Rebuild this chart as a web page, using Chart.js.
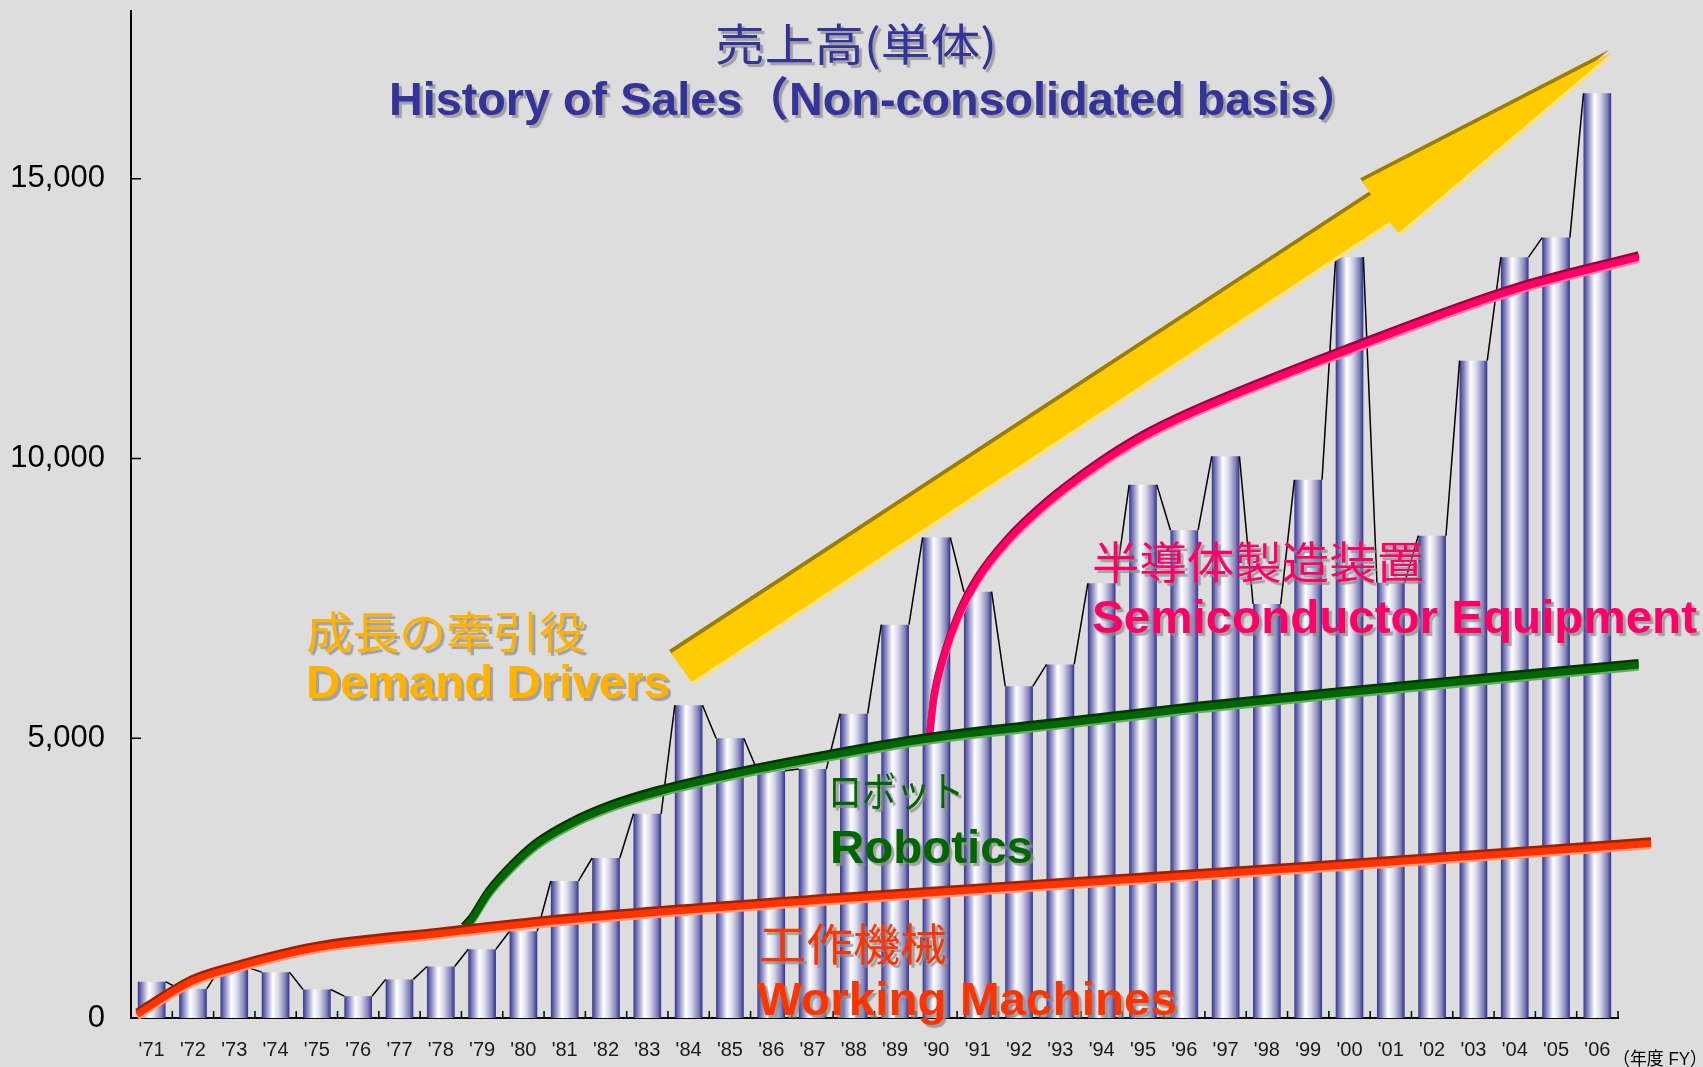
<!DOCTYPE html>
<html>
<head>
<meta charset="utf-8">
<script src="https://cdn.jsdelivr.net/npm/chart.js@4.4.1/dist/chart.umd.min.js"></script>
<style>
html,body{margin:0;padding:0;background:#dddddd;overflow:hidden;}
#wrap{width:1703px;height:1067px;position:relative;}
canvas{display:block;}
</style>
</head>
<body>
<div id="wrap"><canvas id="c" width="1703" height="1067"></canvas></div>
<script>
// ---------- DATA ----------
const fiscalYears = ["'71","'72","'73","'74","'75","'76","'77","'78","'79","'80",
                     "'81","'82","'83","'84","'85","'86","'87","'88","'89","'90",
                     "'91","'92","'93","'94","'95","'96","'97","'98","'99","'00",
                     "'01","'02","'03","'04","'05","'06"];
const sales = [650, 520, 900, 820, 510, 390, 690, 920, 1230, 1550,
               2450, 2860, 3650, 5590, 5000, 4420, 4450, 5440, 7030, 8590,
               7620, 5930, 6320, 7770, 9530, 8720, 10040, 7400, 9620, 13600,
               7780, 8620, 11750, 13600, 13950, 16530];
const yTickValues = [0, 5000, 10000, 15000];

// Trend curves (x = fiscal year position, y = sales level)
const workingMachinesX = [1970.65, 1971.0, 1972.0, 1973.0, 1975.0, 1978.0, 1981.0, 1987.9, 1995.2, 2000.5, 2007.3];
const workingMachinesY = [60, 230, 665, 900, 1255, 1510, 1750, 2140, 2500, 2760, 3120];
const roboticsX = [1978.55, 1978.73, 1979.15, 1979.73, 1980.32, 1981.14, 1982.08, 1983.25, 1985.01, 1987.36, 1989.71, 1993.23, 1996.37, 2000.4, 2007.0];
const roboticsY = [1600, 1742, 2227, 2710, 3102, 3465, 3769, 4039, 4342, 4680, 4977, 5279, 5551, 5850, 6310];
const semiconductorX = [1989.83, 1989.94, 1990.18, 1990.53, 1991.0, 1991.7, 1992.64, 1993.82, 1994.99, 1996.16, 2000.0, 2004.0, 2007.0];
const semiconductorY = [5007, 5732, 6456, 7182, 7846, 8511, 9177, 9841, 10385, 10809, 11950, 13020, 13600];

// Growth arrow outline (fiscal-year position, sales level)
const arrowX = [1983.58, 2000.53, 2000.31, 2006.34, 2001.18, 2000.97, 1984.07];
const arrowY = [6519, 14718, 14955, 17252, 14032, 14239, 6011];

// ---------- STYLE / LAYOUT ----------
const BAR_PCT = 0.67;
const LATIN = '"Liberation Sans", Arial, "Noto Sans CJK JP", sans-serif';
const CJK = '"Noto Sans CJK JP", "Noto Sans CJK SC", sans-serif';

const texts = [
  {t:'売上高(単体)', x:715, y:44, w:282, font:'400 44px '+CJK, color:'#333399', base:'middle'},
  {t:'History of Sales（Non-consolidated basis）', x:389, y:115, w:974, font:'700 46px '+LATIN, color:'#333399', base:'alphabetic'},
  {t:'成長の牽引役', x:306, y:632, w:280, font:'400 44px '+CJK, color:'#ffb300', base:'middle'},
  {t:'Demand Drivers', x:306, y:698, w:364, font:'700 46px '+LATIN, color:'#ffb300', base:'alphabetic'},
  {t:'ロボット', x:828, y:791, w:136, font:'400 42px '+CJK, color:'#006600', base:'middle'},
  {t:'Robotics', x:830, y:863, w:203, font:'700 46px '+LATIN, color:'#006600', base:'alphabetic'},
  {t:'工作機械', x:759, y:944, w:188, font:'400 44px '+CJK, color:'#ff3300', base:'middle'},
  {t:'Working Machines', x:757, y:1015, w:420, font:'700 46px '+LATIN, color:'#ff3300', base:'alphabetic'},
  {t:'半導体製造装置', x:1092, y:562, w:332, font:'400 44px '+CJK, color:'#ff0066', base:'middle'},
  {t:'Semiconductor Equipment', x:1092, y:633, w:605, font:'700 46px '+LATIN, color:'#ff0066', base:'alphabetic'},
  {t:'（年度 FY）', x:1613, y:1065, w:94, font:'400 18px '+LATIN, color:'#000000', base:'alphabetic', noShadow:true}
];

function curveSets(label, xs, ys, core, dark, light, orderBase) {
  const data = xs.map((x, i) => ({x: x, y: ys[i]}));
  const base = {type:'line', data: data, xAxisID:'xc', yAxisID:'y', pointRadius:0, pointHoverRadius:0,
                cubicInterpolationMode:'monotone', clip:false, fill:false, borderCapStyle:'butt', borderJoinStyle:'round'};
  return [
    Object.assign({}, base, {label: label + ' edge', borderColor: dark, borderWidth: 7, shiftY: -2.6, order: orderBase + 2}),
    Object.assign({}, base, {label: label + ' glow', borderColor: light, borderWidth: 7, shiftY: 2.2, order: orderBase + 1}),
    Object.assign({}, base, {label: label, borderColor: core, borderWidth: 7, order: orderBase})
  ];
}

function barGradient(ctx) {
  const chart = ctx.chart;
  const xs = chart.scales && chart.scales.x;
  if (!chart.chartArea || !xs || ctx.type !== 'data') return '#7777bb';
  const cx = xs.getPixelForValue(ctx.dataIndex);
  const half = xs.width / fiscalYears.length * BAR_PCT / 2;
  const g = chart.ctx.createLinearGradient(cx - half, 0, cx + half, 0);
  g.addColorStop(0, '#343492');
  g.addColorStop(0.1, '#6a6ab0');
  g.addColorStop(0.4, '#ffffff');
  g.addColorStop(0.6, '#d8d8ec');
  g.addColorStop(0.85, '#8383ba');
  g.addColorStop(1, '#30308f');
  return g;
}

const decorPlugin = {
  id: 'decor',
  beforeDraw(chart) {
    const c = chart.ctx;
    c.save(); c.fillStyle = '#dddddd'; c.fillRect(0, 0, chart.width, chart.height); c.restore();
  },
  beforeDatasetDraw(chart, args) {
    const ds = chart.data.datasets[args.index];
    if (ds.shiftY) { chart.ctx.save(); chart.ctx.translate(0, ds.shiftY); }
  },
  afterDatasetDraw(chart, args) {
    const ds = chart.data.datasets[args.index];
    if (ds.shiftY) chart.ctx.restore();
    if (args.index === 0) {
      const meta = chart.getDatasetMeta(0);
      const c = chart.ctx;
      c.save();
      c.strokeStyle = '#000'; c.lineWidth = 1.5; c.lineJoin = 'round';
      c.beginPath();
      for (let i = 0; i < meta.data.length - 1; i++) {
        const a = meta.data[i].getProps(['x','y','width'], true);
        const b = meta.data[i+1].getProps(['x','y','width'], true);
        c.moveTo(a.x + a.width/2, a.y);
        c.lineTo(b.x - b.width/2, b.y);
      }
      c.stroke();
      c.restore();
    }
  },
  afterDatasetsDraw(chart) {
    const c = chart.ctx;
    const xc = chart.scales.xc, y = chart.scales.y;
    const pts = arrowX.map((v, i) => [xc.getPixelForValue(v), y.getPixelForValue(arrowY[i])]);
    const poly = (dx, dy, color) => {
      c.beginPath();
      pts.forEach((p, i) => i ? c.lineTo(p[0]+dx, p[1]+dy) : c.moveTo(p[0]+dx, p[1]+dy));
      c.closePath(); c.fillStyle = color; c.fill();
    };
    c.save();
    poly(-2.2, -3.2, '#9a7d00');
    poly(1.8, 2.8, '#ffe27a');
    poly(0, 0, '#ffcc00');
    c.restore();
  },
  afterDraw(chart) {
    const c = chart.ctx;
    const x = chart.scales.x, y = chart.scales.y;
    c.save();
    c.strokeStyle = '#000'; c.lineWidth = 1.5;
    c.beginPath();
    const n = fiscalYears.length;
    for (let i = 0; i < n; i++) {
      const b = i < n - 1 ? (x.getPixelForValue(i) + x.getPixelForValue(i+1)) / 2 : x.right;
      c.moveTo(b, y.bottom); c.lineTo(b, y.bottom - 7);
    }
    yTickValues.forEach(v => {
      if (v === 0) return;
      const py = y.getPixelForValue(v);
      c.moveTo(x.left, py); c.lineTo(x.left + 10, py);
    });
    c.stroke();
    c.restore();
    texts.forEach(t => {
      c.save();
      c.font = t.font;
      c.textAlign = 'left';
      c.textBaseline = t.base;
      const w = c.measureText(t.t).width;
      const sx = t.w ? t.w / w : 1;
      if (!t.noShadow) {
        c.shadowColor = 'rgba(140,140,140,0.75)';
        c.shadowOffsetX = 3; c.shadowOffsetY = 3; c.shadowBlur = 1;
      }
      c.fillStyle = t.color;
      c.translate(t.x, t.y);
      c.scale(sx, 1);
      c.fillText(t.t, 0, 0);
      c.restore();
    });
  }
};

const datasets = [
  {type:'bar', label:'Sales', data: sales, xAxisID:'x', yAxisID:'y',
   backgroundColor: barGradient, borderWidth: 0, grouped: false,
   categoryPercentage: 1.0, barPercentage: BAR_PCT, order: 100},
  ...curveSets('Semiconductor Equipment', semiconductorX, semiconductorY, '#ff0066', '#99003a', '#ff77aa', 30),
  ...curveSets('Robotics', roboticsX, roboticsY, '#006600', '#003300', '#66aa66', 20),
  ...curveSets('Working Machines', workingMachinesX, workingMachinesY, '#ff3300', '#992200', '#ff9977', 10)
];

new Chart(document.getElementById('c'), {
  type: 'bar',
  data: { labels: fiscalYears, datasets: datasets },
  plugins: [decorPlugin],
  options: {
    responsive: false,
    devicePixelRatio: 1,
    animation: false,
    layout: { padding: { left: 0, right: 85, top: 11, bottom: 0 } },
    plugins: { legend: { display: false }, tooltip: { enabled: false }, title: { display: false } },
    scales: {
      x: {
        type: 'category', position: 'bottom', offset: true,
        grid: { display: false, drawTicks: false },
        border: { display: true, color: '#000', width: 2 },
        ticks: { color: '#1a1a1a', font: { family: LATIN, size: 20 }, padding: 20, maxRotation: 0, autoSkip: false },
        afterFit(s) { s.height = 49; s.paddingLeft = 0; s.paddingRight = 0; }
      },
      xc: {
        type: 'linear', display: false, offset: false, min: 1970.5, max: 2006.5,
        grid: { offset: false }
      },
      y: {
        type: 'linear', position: 'left', min: 0, max: 18000,
        grid: { display: false, drawTicks: false },
        border: { display: true, color: '#000', width: 2 },
        ticks: { color: '#000', font: { family: LATIN, size: 31 }, padding: 26,
                 callback: v => v.toLocaleString('en-US') },
        afterBuildTicks(s) { s.ticks = yTickValues.map(v => ({ value: v })); },
        afterFit(s) { s.width = 131; s.paddingTop = 0; s.paddingBottom = 0; }
      }
    }
  }
});
</script>
</body>
</html>
